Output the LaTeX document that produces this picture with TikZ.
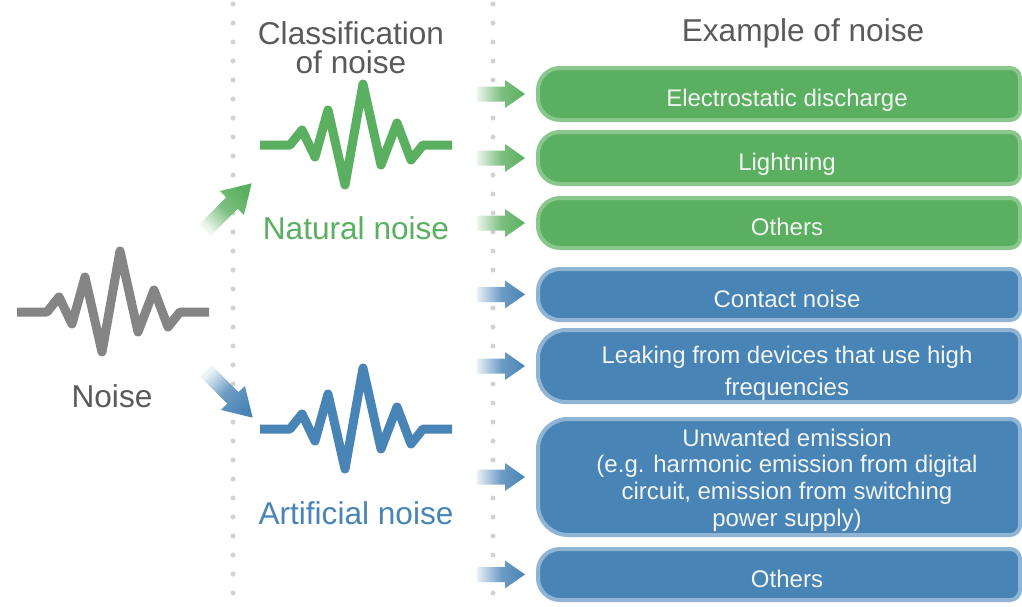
\documentclass[tikz,border=0pt]{standalone}
\usepackage{fontspec}
\setmainfont{Liberation Sans}
\usetikzlibrary{backgrounds}
\definecolor{gfill}{HTML}{5BAF60}
\definecolor{grim}{HTML}{8AC78D}
\definecolor{bfill}{HTML}{4884B5}
\definecolor{brim}{HTML}{8FB4D4}
\definecolor{txtgray}{HTML}{5A5A5A}
\definecolor{wavegray}{HTML}{858585}
\definecolor{dotgray}{HTML}{D2D2D2}
\definecolor{boxtxt}{HTML}{F2F5F2}
\tikzset{
  wave/.pic={\draw[line width=9, line join=round, pic actions]
    (0,0) -- (30,0) -- (42,-15) -- (55,12) -- (68,-35) -- (85,40) -- (103,-61)
    -- (121,20) -- (137,-22) -- (151,15) -- (163,0) -- (192,0);},
  head/.style={font=\fontsize{31.6}{29}\selectfont, text=txtgray, align=center, inner sep=0},
  lbl/.style={font=\fontsize{31.6}{34}\selectfont, inner sep=0},
  boxnode/.style={minimum width=482, inner sep=0, outer sep=0},
  boxtext/.style={font=\fontsize{24}{26.7}\selectfont, text=boxtxt, align=center, inner sep=0},
  dotline/.style={dotgray, line width=5, line cap=round, dash pattern=on 0pt off 19pt}
}
% #1 node, #2 fill, #3 rim, #4 left radius, #5 height
\newcommand\drawbox[5]{%
  \begin{scope}[on background layer, shift={(#1.north west)}]
  \draw[line width=4, draw=#3, fill=#2] (#4,0) -- (472,0) arc(-90:0:10) -- (482,#5-10) arc(0:90:10)
    -- (#4,#5) arc(90:180:#4) -- (0,#4) arc(180:270:#4) -- cycle;
  \end{scope}}
\newcommand\harrow[2]{%
  \begin{scope}[shift={(#1.west)}]
  \shade[left color=#2!12, right color=#2, middle color=#2!80]
    (-61,-7.5) -- (-33,-7.5) -- (-33,-14) -- (-13,0) -- (-33,14) -- (-33,7.5) -- (-61,7.5) -- cycle;
  \end{scope}}
\begin{document}
\begin{tikzpicture}[x=1pt, y=-1pt]
\useasboundingbox (0,0) rectangle (1022,606);
\begin{scope}[on background layer]
\fill[white] (0,0) rectangle (1022,606);
\end{scope}
% dotted separators
\draw[dotline] (233,4) -- (233,606);
\draw[dotline] (493,4) -- (493,606);
% headings
\node[head] (cls) at (351,47.5) {Classification\\of noise};
\node[head] (ex) at (803,33) {Example of noise};
% waves
\pic[draw=wavegray] (wg) at (17,312) {wave};
\pic[draw=gfill] (wn) at (260,145) {wave};
\pic[draw=bfill] (wa) at (260,429) {wave};
% labels
\node[lbl, text=txtgray] (noise) at (112,396) {Noise};
\node[lbl, text=gfill] (nat) at (356,228) {Natural noise};
\node[lbl, text=bfill] (art) at (356,513) {Artificial noise};
% diagonal arrows
\shade[top color=gfill, bottom color=gfill!10, middle color=gfill!80, shading angle=-45]
  (199.3,224.3) -- (226.2,197.4) -- (219.9,191.1) -- (251.7,183.3) -- (243.9,215.1) -- (237.6,208.8) -- (210.7,235.7) -- cycle;
\shade[top color=bfill!10, bottom color=bfill, middle color=bfill!80, shading angle=45]
  (211.7,365.3) -- (238.5,392.2) -- (244.9,385.9) -- (252.7,417.7) -- (220.9,409.9) -- (227.2,403.6) -- (200.3,376.7) -- cycle;
% boxes
\node[boxnode, minimum height=52, label={[boxtext, xshift=8, yshift=-6]center:Electrostatic discharge}] (b1) at (779,94) {};
\node[boxnode, minimum height=52, label={[boxtext, xshift=8, yshift=-6]center:Lightning}] (b2) at (779,158) {};
\node[boxnode, minimum height=50, label={[boxtext, xshift=8, yshift=-4]center:Others}] (b3) at (779,223) {};
\node[boxnode, minimum height=51, label={[boxtext, xshift=8, yshift=-4]center:Contact noise}] (b4) at (779,294.5) {};
\node[boxnode, minimum height=72, label={[boxtext, font=\fontsize{24}{32}\selectfont, xshift=8, yshift=-7]center:Leaking from devices that use high\\frequencies}] (b5) at (779,366) {};
\node[boxnode, minimum height=116, label={[boxtext, xshift=8, yshift=-3]center:Unwanted emission\\(e.g. harmonic emission from digital\\circuit, emission from switching\\power supply)}] (b6) at (779,477) {};
\node[boxnode, minimum height=51, label={[boxtext, xshift=8, yshift=-4]center:Others}] (b7) at (779,574.5) {};
\drawbox{b1}{gfill}{grim}{22}{52}
\drawbox{b2}{gfill}{grim}{22}{52}
\drawbox{b3}{gfill}{grim}{22}{50}
\drawbox{b4}{bfill}{brim}{22}{51}
\drawbox{b5}{bfill}{brim}{28}{72}
\drawbox{b6}{bfill}{brim}{30}{116}
\drawbox{b7}{bfill}{brim}{22}{51}
\harrow{b1}{gfill}
\harrow{b2}{gfill}
\harrow{b3}{gfill}
\harrow{b4}{bfill}
\harrow{b5}{bfill}
\harrow{b6}{bfill}
\harrow{b7}{bfill}
\end{tikzpicture}
\end{document}
